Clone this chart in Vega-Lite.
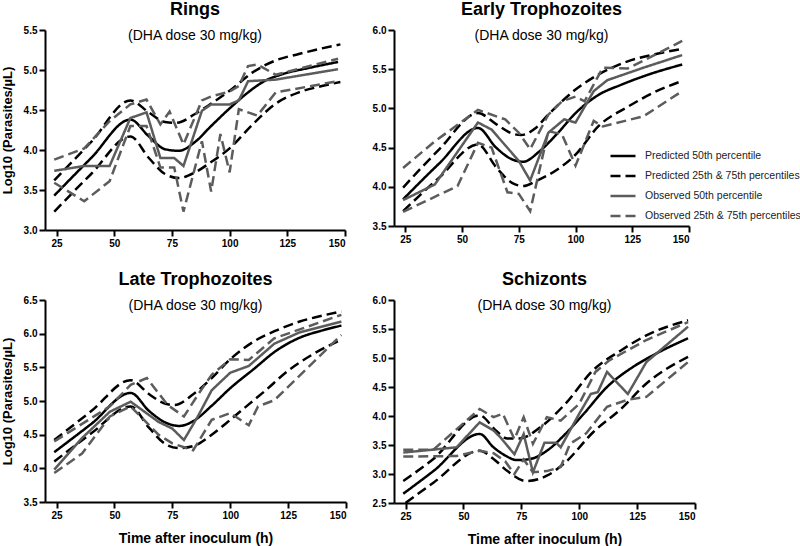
{
  "$schema": "https://vega.github.io/schema/vega-lite/v6.json",
  "padding": {"left": 1, "top": 1, "right": 0, "bottom": 0},
  "background": "white",
  "data": {"values": [
    {"p":"R","s":"P50","l":"p50","t":24,"v":3.43},{"p":"R","s":"P50","l":"p50","t":40,"v":3.90},{"p":"R","s":"P50","l":"p50","t":57,"v":4.38},{"p":"R","s":"P50","l":"p50","t":65,"v":4.17},{"p":"R","s":"P50","l":"p50","t":72,"v":4.01},{"p":"R","s":"P50","l":"p50","t":78,"v":3.99},{"p":"R","s":"P50","l":"p50","t":85,"v":4.10},{"p":"R","s":"P50","l":"p50","t":92,"v":4.30},{"p":"R","s":"P50","l":"p50","t":100,"v":4.52},{"p":"R","s":"P50","l":"p50","t":108,"v":4.72},{"p":"R","s":"P50","l":"p50","t":115,"v":4.86},{"p":"R","s":"P50","l":"p50","t":122,"v":4.94},{"p":"R","s":"P50","l":"p50","t":135,"v":5.03},{"p":"R","s":"P50","l":"p50","t":147,"v":5.10},
    {"p":"R","s":"P2575","l":"p75","t":24,"v":3.62},{"p":"R","s":"P2575","l":"p75","t":40,"v":4.10},{"p":"R","s":"P2575","l":"p75","t":57,"v":4.62},{"p":"R","s":"P2575","l":"p75","t":65,"v":4.47},{"p":"R","s":"P2575","l":"p75","t":72,"v":4.35},{"p":"R","s":"P2575","l":"p75","t":77,"v":4.34},{"p":"R","s":"P2575","l":"p75","t":85,"v":4.45},{"p":"R","s":"P2575","l":"p75","t":92,"v":4.58},{"p":"R","s":"P2575","l":"p75","t":100,"v":4.74},{"p":"R","s":"P2575","l":"p75","t":110,"v":4.97},{"p":"R","s":"P2575","l":"p75","t":120,"v":5.12},{"p":"R","s":"P2575","l":"p75","t":130,"v":5.20},{"p":"R","s":"P2575","l":"p75","t":140,"v":5.27},{"p":"R","s":"P2575","l":"p75","t":148,"v":5.32},
    {"p":"R","s":"P2575","l":"p25","t":24,"v":3.23},{"p":"R","s":"P2575","l":"p25","t":40,"v":3.70},{"p":"R","s":"P2575","l":"p25","t":57,"v":4.17},{"p":"R","s":"P2575","l":"p25","t":65,"v":3.90},{"p":"R","s":"P2575","l":"p25","t":72,"v":3.70},{"p":"R","s":"P2575","l":"p25","t":78,"v":3.65},{"p":"R","s":"P2575","l":"p25","t":85,"v":3.72},{"p":"R","s":"P2575","l":"p25","t":92,"v":3.85},{"p":"R","s":"P2575","l":"p25","t":100,"v":4.02},{"p":"R","s":"P2575","l":"p25","t":110,"v":4.32},{"p":"R","s":"P2575","l":"p25","t":120,"v":4.58},{"p":"R","s":"P2575","l":"p25","t":130,"v":4.72},{"p":"R","s":"P2575","l":"p25","t":140,"v":4.80},{"p":"R","s":"P2575","l":"p25","t":148,"v":4.85},
    {"p":"R","s":"O50","l":"o50","t":24,"v":3.74},{"p":"R","s":"O50","l":"o50","t":37,"v":3.80},{"p":"R","s":"O50","l":"o50","t":48,"v":3.80},{"p":"R","s":"O50","l":"o50","t":57,"v":4.40},{"p":"R","s":"O50","l":"o50","t":64,"v":4.47},{"p":"R","s":"O50","l":"o50","t":70,"v":3.90},{"p":"R","s":"O50","l":"o50","t":76,"v":3.90},{"p":"R","s":"O50","l":"o50","t":80,"v":3.80},{"p":"R","s":"O50","l":"o50","t":88,"v":4.49},{"p":"R","s":"O50","l":"o50","t":92,"v":4.57},{"p":"R","s":"O50","l":"o50","t":100,"v":4.57},{"p":"R","s":"O50","l":"o50","t":104,"v":4.62},{"p":"R","s":"O50","l":"o50","t":108,"v":4.86},{"p":"R","s":"O50","l":"o50","t":120,"v":4.88},{"p":"R","s":"O50","l":"o50","t":147,"v":5.01},
    {"p":"R","s":"O2575","l":"o75","t":24,"v":3.88},{"p":"R","s":"O2575","l":"o75","t":37,"v":4.02},{"p":"R","s":"O2575","l":"o75","t":48,"v":4.36},{"p":"R","s":"O2575","l":"o75","t":57,"v":4.57},{"p":"R","s":"O2575","l":"o75","t":64,"v":4.63},{"p":"R","s":"O2575","l":"o75","t":70,"v":4.32},{"p":"R","s":"O2575","l":"o75","t":74,"v":4.48},{"p":"R","s":"O2575","l":"o75","t":80,"v":4.07},{"p":"R","s":"O2575","l":"o75","t":88,"v":4.62},{"p":"R","s":"O2575","l":"o75","t":92,"v":4.67},{"p":"R","s":"O2575","l":"o75","t":100,"v":4.73},{"p":"R","s":"O2575","l":"o75","t":104,"v":4.80},{"p":"R","s":"O2575","l":"o75","t":108,"v":5.05},{"p":"R","s":"O2575","l":"o75","t":112,"v":5.07},{"p":"R","s":"O2575","l":"o75","t":120,"v":4.94},{"p":"R","s":"O2575","l":"o75","t":147,"v":5.14},
    {"p":"R","s":"O2575","l":"o25","t":24,"v":3.59},{"p":"R","s":"O2575","l":"o25","t":37,"v":3.36},{"p":"R","s":"O2575","l":"o25","t":48,"v":3.61},{"p":"R","s":"O2575","l":"o25","t":57,"v":4.30},{"p":"R","s":"O2575","l":"o25","t":64,"v":4.30},{"p":"R","s":"O2575","l":"o25","t":70,"v":3.78},{"p":"R","s":"O2575","l":"o25","t":76,"v":3.78},{"p":"R","s":"O2575","l":"o25","t":80,"v":3.23},{"p":"R","s":"O2575","l":"o25","t":88,"v":4.11},{"p":"R","s":"O2575","l":"o25","t":92,"v":3.48},{"p":"R","s":"O2575","l":"o25","t":96,"v":4.20},{"p":"R","s":"O2575","l":"o25","t":100,"v":3.72},{"p":"R","s":"O2575","l":"o25","t":104,"v":4.51},{"p":"R","s":"O2575","l":"o25","t":112,"v":4.43},{"p":"R","s":"O2575","l":"o25","t":120,"v":4.72},{"p":"R","s":"O2575","l":"o25","t":147,"v":4.86},

    {"p":"E","s":"P50","l":"p50","t":24,"v":3.84},{"p":"E","s":"P50","l":"p50","t":40,"v":4.30},{"p":"E","s":"P50","l":"p50","t":57,"v":4.75},{"p":"E","s":"P50","l":"p50","t":65,"v":4.50},{"p":"E","s":"P50","l":"p50","t":72,"v":4.35},{"p":"E","s":"P50","l":"p50","t":77,"v":4.32},{"p":"E","s":"P50","l":"p50","t":84,"v":4.45},{"p":"E","s":"P50","l":"p50","t":92,"v":4.68},{"p":"E","s":"P50","l":"p50","t":100,"v":4.94},{"p":"E","s":"P50","l":"p50","t":110,"v":5.17},{"p":"E","s":"P50","l":"p50","t":120,"v":5.30},{"p":"E","s":"P50","l":"p50","t":132,"v":5.43},{"p":"E","s":"P50","l":"p50","t":147,"v":5.56},
    {"p":"E","s":"P2575","l":"p75","t":24,"v":3.99},{"p":"E","s":"P2575","l":"p75","t":40,"v":4.48},{"p":"E","s":"P2575","l":"p75","t":57,"v":4.94},{"p":"E","s":"P2575","l":"p75","t":65,"v":4.80},{"p":"E","s":"P2575","l":"p75","t":72,"v":4.68},{"p":"E","s":"P2575","l":"p75","t":76,"v":4.66},{"p":"E","s":"P2575","l":"p75","t":82,"v":4.74},{"p":"E","s":"P2575","l":"p75","t":88,"v":4.92},{"p":"E","s":"P2575","l":"p75","t":100,"v":5.24},{"p":"E","s":"P2575","l":"p75","t":110,"v":5.43},{"p":"E","s":"P2575","l":"p75","t":123,"v":5.60},{"p":"E","s":"P2575","l":"p75","t":135,"v":5.69},{"p":"E","s":"P2575","l":"p75","t":147,"v":5.76},
    {"p":"E","s":"P2575","l":"p25","t":24,"v":3.69},{"p":"E","s":"P2575","l":"p25","t":40,"v":4.12},{"p":"E","s":"P2575","l":"p25","t":57,"v":4.54},{"p":"E","s":"P2575","l":"p25","t":65,"v":4.25},{"p":"E","s":"P2575","l":"p25","t":72,"v":4.05},{"p":"E","s":"P2575","l":"p25","t":77,"v":4.01},{"p":"E","s":"P2575","l":"p25","t":83,"v":4.08},{"p":"E","s":"P2575","l":"p25","t":92,"v":4.22},{"p":"E","s":"P2575","l":"p25","t":100,"v":4.41},{"p":"E","s":"P2575","l":"p25","t":110,"v":4.77},{"p":"E","s":"P2575","l":"p25","t":123,"v":5.02},{"p":"E","s":"P2575","l":"p25","t":135,"v":5.21},{"p":"E","s":"P2575","l":"p25","t":147,"v":5.35},
    {"p":"E","s":"O50","l":"o50","t":24,"v":3.83},{"p":"E","s":"O50","l":"o50","t":38,"v":4.03},{"p":"E","s":"O50","l":"o50","t":57,"v":4.82},{"p":"E","s":"O50","l":"o50","t":63,"v":4.73},{"p":"E","s":"O50","l":"o50","t":75,"v":4.33},{"p":"E","s":"O50","l":"o50","t":80,"v":4.08},{"p":"E","s":"O50","l":"o50","t":88,"v":4.69},{"p":"E","s":"O50","l":"o50","t":95,"v":4.86},{"p":"E","s":"O50","l":"o50","t":100,"v":4.82},{"p":"E","s":"O50","l":"o50","t":108,"v":5.22},{"p":"E","s":"O50","l":"o50","t":114,"v":5.36},{"p":"E","s":"O50","l":"o50","t":130,"v":5.52},{"p":"E","s":"O50","l":"o50","t":147,"v":5.68},
    {"p":"E","s":"O2575","l":"o75","t":24,"v":4.24},{"p":"E","s":"O2575","l":"o75","t":38,"v":4.58},{"p":"E","s":"O2575","l":"o75","t":57,"v":4.98},{"p":"E","s":"O2575","l":"o75","t":69,"v":4.86},{"p":"E","s":"O2575","l":"o75","t":75,"v":4.69},{"p":"E","s":"O2575","l":"o75","t":80,"v":4.48},{"p":"E","s":"O2575","l":"o75","t":88,"v":4.92},{"p":"E","s":"O2575","l":"o75","t":94,"v":5.09},{"p":"E","s":"O2575","l":"o75","t":100,"v":5.15},{"p":"E","s":"O2575","l":"o75","t":104,"v":5.09},{"p":"E","s":"O2575","l":"o75","t":112,"v":5.52},{"p":"E","s":"O2575","l":"o75","t":123,"v":5.51},{"p":"E","s":"O2575","l":"o75","t":147,"v":5.86},
    {"p":"E","s":"O2575","l":"o25","t":24,"v":3.68},{"p":"E","s":"O2575","l":"o25","t":48,"v":4.01},{"p":"E","s":"O2575","l":"o25","t":57,"v":4.56},{"p":"E","s":"O2575","l":"o25","t":63,"v":4.50},{"p":"E","s":"O2575","l":"o25","t":70,"v":3.93},{"p":"E","s":"O2575","l":"o25","t":75,"v":3.91},{"p":"E","s":"O2575","l":"o25","t":80,"v":3.69},{"p":"E","s":"O2575","l":"o25","t":88,"v":4.71},{"p":"E","s":"O2575","l":"o25","t":94,"v":4.67},{"p":"E","s":"O2575","l":"o25","t":100,"v":4.27},{"p":"E","s":"O2575","l":"o25","t":108,"v":4.84},{"p":"E","s":"O2575","l":"o25","t":112,"v":4.77},{"p":"E","s":"O2575","l":"o25","t":130,"v":4.90},{"p":"E","s":"O2575","l":"o25","t":147,"v":5.22},

    {"p":"L","s":"P50","l":"p50","t":24,"v":4.24},{"p":"L","s":"P50","l":"p50","t":40,"v":4.66},{"p":"L","s":"P50","l":"p50","t":57,"v":5.12},{"p":"L","s":"P50","l":"p50","t":65,"v":4.85},{"p":"L","s":"P50","l":"p50","t":72,"v":4.68},{"p":"L","s":"P50","l":"p50","t":78,"v":4.63},{"p":"L","s":"P50","l":"p50","t":84,"v":4.70},{"p":"L","s":"P50","l":"p50","t":92,"v":4.93},{"p":"L","s":"P50","l":"p50","t":100,"v":5.19},{"p":"L","s":"P50","l":"p50","t":110,"v":5.47},{"p":"L","s":"P50","l":"p50","t":120,"v":5.75},{"p":"L","s":"P50","l":"p50","t":130,"v":5.94},{"p":"L","s":"P50","l":"p50","t":140,"v":6.05},{"p":"L","s":"P50","l":"p50","t":148,"v":6.12},
    {"p":"L","s":"P2575","l":"p75","t":24,"v":4.42},{"p":"L","s":"P2575","l":"p75","t":40,"v":4.85},{"p":"L","s":"P2575","l":"p75","t":57,"v":5.31},{"p":"L","s":"P2575","l":"p75","t":65,"v":5.10},{"p":"L","s":"P2575","l":"p75","t":72,"v":4.96},{"p":"L","s":"P2575","l":"p75","t":76,"v":4.94},{"p":"L","s":"P2575","l":"p75","t":84,"v":5.10},{"p":"L","s":"P2575","l":"p75","t":92,"v":5.34},{"p":"L","s":"P2575","l":"p75","t":100,"v":5.62},{"p":"L","s":"P2575","l":"p75","t":110,"v":5.88},{"p":"L","s":"P2575","l":"p75","t":120,"v":6.05},{"p":"L","s":"P2575","l":"p75","t":130,"v":6.18},{"p":"L","s":"P2575","l":"p75","t":140,"v":6.27},{"p":"L","s":"P2575","l":"p75","t":148,"v":6.33},
    {"p":"L","s":"P2575","l":"p25","t":24,"v":4.10},{"p":"L","s":"P2575","l":"p25","t":40,"v":4.52},{"p":"L","s":"P2575","l":"p25","t":57,"v":4.92},{"p":"L","s":"P2575","l":"p25","t":65,"v":4.60},{"p":"L","s":"P2575","l":"p25","t":72,"v":4.36},{"p":"L","s":"P2575","l":"p25","t":78,"v":4.30},{"p":"L","s":"P2575","l":"p25","t":84,"v":4.33},{"p":"L","s":"P2575","l":"p25","t":92,"v":4.50},{"p":"L","s":"P2575","l":"p25","t":100,"v":4.72},{"p":"L","s":"P2575","l":"p25","t":108,"v":4.95},{"p":"L","s":"P2575","l":"p25","t":115,"v":5.15},{"p":"L","s":"P2575","l":"p25","t":125,"v":5.45},{"p":"L","s":"P2575","l":"p25","t":135,"v":5.68},{"p":"L","s":"P2575","l":"p25","t":148,"v":5.91},
    {"p":"L","s":"O50","l":"o50","t":24,"v":3.98},{"p":"L","s":"O50","l":"o50","t":36,"v":4.45},{"p":"L","s":"O50","l":"o50","t":48,"v":4.84},{"p":"L","s":"O50","l":"o50","t":57,"v":4.99},{"p":"L","s":"O50","l":"o50","t":69,"v":4.69},{"p":"L","s":"O50","l":"o50","t":75,"v":4.59},{"p":"L","s":"O50","l":"o50","t":80,"v":4.42},{"p":"L","s":"O50","l":"o50","t":86,"v":4.77},{"p":"L","s":"O50","l":"o50","t":92,"v":5.16},{"p":"L","s":"O50","l":"o50","t":100,"v":5.42},{"p":"L","s":"O50","l":"o50","t":108,"v":5.52},{"p":"L","s":"O50","l":"o50","t":119,"v":5.85},{"p":"L","s":"O50","l":"o50","t":130,"v":6.02},{"p":"L","s":"O50","l":"o50","t":148,"v":6.18},
    {"p":"L","s":"O2575","l":"o75","t":24,"v":4.40},{"p":"L","s":"O2575","l":"o75","t":48,"v":4.92},{"p":"L","s":"O2575","l":"o75","t":57,"v":5.24},{"p":"L","s":"O2575","l":"o75","t":64,"v":5.34},{"p":"L","s":"O2575","l":"o75","t":73,"v":4.94},{"p":"L","s":"O2575","l":"o75","t":80,"v":4.77},{"p":"L","s":"O2575","l":"o75","t":86,"v":5.09},{"p":"L","s":"O2575","l":"o75","t":92,"v":5.39},{"p":"L","s":"O2575","l":"o75","t":100,"v":5.62},{"p":"L","s":"O2575","l":"o75","t":108,"v":5.61},{"p":"L","s":"O2575","l":"o75","t":119,"v":5.93},{"p":"L","s":"O2575","l":"o75","t":148,"v":6.28},
    {"p":"L","s":"O2575","l":"o25","t":24,"v":3.93},{"p":"L","s":"O2575","l":"o25","t":36,"v":4.22},{"p":"L","s":"O2575","l":"o25","t":48,"v":4.77},{"p":"L","s":"O2575","l":"o25","t":57,"v":4.92},{"p":"L","s":"O2575","l":"o25","t":69,"v":4.50},{"p":"L","s":"O2575","l":"o25","t":75,"v":4.37},{"p":"L","s":"O2575","l":"o25","t":84,"v":4.27},{"p":"L","s":"O2575","l":"o25","t":92,"v":4.72},{"p":"L","s":"O2575","l":"o25","t":100,"v":4.82},{"p":"L","s":"O2575","l":"o25","t":108,"v":4.64},{"p":"L","s":"O2575","l":"o25","t":112,"v":4.92},{"p":"L","s":"O2575","l":"o25","t":119,"v":5.01},{"p":"L","s":"O2575","l":"o25","t":148,"v":5.98},

    {"p":"S","s":"P50","l":"p50","t":24,"v":2.66},{"p":"S","s":"P50","l":"p50","t":37,"v":3.05},{"p":"S","s":"P50","l":"p50","t":57,"v":3.69},{"p":"S","s":"P50","l":"p50","t":63,"v":3.46},{"p":"S","s":"P50","l":"p50","t":68,"v":3.32},{"p":"S","s":"P50","l":"p50","t":73,"v":3.24},{"p":"S","s":"P50","l":"p50","t":79,"v":3.26},{"p":"S","s":"P50","l":"p50","t":86,"v":3.40},{"p":"S","s":"P50","l":"p50","t":94,"v":3.69},{"p":"S","s":"P50","l":"p50","t":102,"v":4.04},{"p":"S","s":"P50","l":"p50","t":112,"v":4.50},{"p":"S","s":"P50","l":"p50","t":123,"v":4.84},{"p":"S","s":"P50","l":"p50","t":132,"v":5.05},{"p":"S","s":"P50","l":"p50","t":147,"v":5.34},
    {"p":"S","s":"P2575","l":"p75","t":24,"v":2.88},{"p":"S","s":"P2575","l":"p75","t":37,"v":3.26},{"p":"S","s":"P2575","l":"p75","t":57,"v":4.01},{"p":"S","s":"P2575","l":"p75","t":64,"v":3.75},{"p":"S","s":"P2575","l":"p75","t":69,"v":3.61},{"p":"S","s":"P2575","l":"p75","t":74,"v":3.61},{"p":"S","s":"P2575","l":"p75","t":83,"v":3.80},{"p":"S","s":"P2575","l":"p75","t":94,"v":4.21},{"p":"S","s":"P2575","l":"p75","t":106,"v":4.79},{"p":"S","s":"P2575","l":"p75","t":118,"v":5.13},{"p":"S","s":"P2575","l":"p75","t":129,"v":5.39},{"p":"S","s":"P2575","l":"p75","t":147,"v":5.65},
    {"p":"S","s":"P2575","l":"p25","t":25,"v":2.50},{"p":"S","s":"P2575","l":"p25","t":37,"v":2.85},{"p":"S","s":"P2575","l":"p25","t":57,"v":3.40},{"p":"S","s":"P2575","l":"p25","t":63,"v":3.26},{"p":"S","s":"P2575","l":"p25","t":69,"v":3.05},{"p":"S","s":"P2575","l":"p25","t":77,"v":2.88},{"p":"S","s":"P2575","l":"p25","t":86,"v":2.97},{"p":"S","s":"P2575","l":"p25","t":94,"v":3.20},{"p":"S","s":"P2575","l":"p25","t":106,"v":3.72},{"p":"S","s":"P2575","l":"p25","t":118,"v":4.12},{"p":"S","s":"P2575","l":"p25","t":129,"v":4.56},{"p":"S","s":"P2575","l":"p25","t":147,"v":5.02},
    {"p":"S","s":"O50","l":"o50","t":24,"v":3.37},{"p":"S","s":"O50","l":"o50","t":47,"v":3.46},{"p":"S","s":"O50","l":"o50","t":57,"v":3.89},{"p":"S","s":"O50","l":"o50","t":63,"v":3.75},{"p":"S","s":"O50","l":"o50","t":66,"v":3.63},{"p":"S","s":"O50","l":"o50","t":72,"v":3.34},{"p":"S","s":"O50","l":"o50","t":76,"v":3.69},{"p":"S","s":"O50","l":"o50","t":80,"v":3.03},{"p":"S","s":"O50","l":"o50","t":85,"v":3.54},{"p":"S","s":"O50","l":"o50","t":90,"v":3.54},{"p":"S","s":"O50","l":"o50","t":92,"v":3.46},{"p":"S","s":"O50","l":"o50","t":100,"v":4.04},{"p":"S","s":"O50","l":"o50","t":105,"v":4.38},{"p":"S","s":"O50","l":"o50","t":108,"v":4.41},{"p":"S","s":"O50","l":"o50","t":112,"v":4.76},{"p":"S","s":"O50","l":"o50","t":121,"v":4.38},{"p":"S","s":"O50","l":"o50","t":129,"v":4.93},{"p":"S","s":"O50","l":"o50","t":147,"v":5.54},
    {"p":"S","s":"O2575","l":"o75","t":24,"v":3.42},{"p":"S","s":"O2575","l":"o75","t":37,"v":3.42},{"p":"S","s":"O2575","l":"o75","t":57,"v":4.12},{"p":"S","s":"O2575","l":"o75","t":63,"v":3.98},{"p":"S","s":"O2575","l":"o75","t":67,"v":4.04},{"p":"S","s":"O2575","l":"o75","t":72,"v":3.60},{"p":"S","s":"O2575","l":"o75","t":76,"v":3.98},{"p":"S","s":"O2575","l":"o75","t":80,"v":3.52},{"p":"S","s":"O2575","l":"o75","t":86,"v":3.98},{"p":"S","s":"O2575","l":"o75","t":92,"v":3.92},{"p":"S","s":"O2575","l":"o75","t":100,"v":4.21},{"p":"S","s":"O2575","l":"o75","t":107,"v":4.76},{"p":"S","s":"O2575","l":"o75","t":113,"v":4.96},{"p":"S","s":"O2575","l":"o75","t":129,"v":5.31},{"p":"S","s":"O2575","l":"o75","t":147,"v":5.62},
    {"p":"S","s":"O2575","l":"o25","t":24,"v":3.30},{"p":"S","s":"O2575","l":"o25","t":47,"v":3.31},{"p":"S","s":"O2575","l":"o25","t":57,"v":3.40},{"p":"S","s":"O2575","l":"o25","t":63,"v":3.36},{"p":"S","s":"O2575","l":"o25","t":68,"v":3.22},{"p":"S","s":"O2575","l":"o25","t":72,"v":3.00},{"p":"S","s":"O2575","l":"o25","t":76,"v":3.25},{"p":"S","s":"O2575","l":"o25","t":80,"v":3.03},{"p":"S","s":"O2575","l":"o25","t":86,"v":3.05},{"p":"S","s":"O2575","l":"o25","t":92,"v":3.12},{"p":"S","s":"O2575","l":"o25","t":96,"v":3.52},{"p":"S","s":"O2575","l":"o25","t":103,"v":3.70},{"p":"S","s":"O2575","l":"o25","t":112,"v":4.16},{"p":"S","s":"O2575","l":"o25","t":121,"v":4.28},{"p":"S","s":"O2575","l":"o25","t":129,"v":4.33},{"p":"S","s":"O2575","l":"o25","t":147,"v":4.93}
  ]},
  "columns": 2,
  "spacing": {"row": 23, "column": 25},
  "resolve": {"legend": {"color": "independent", "strokeDash": "independent"}},
  "concat": [
    {
      "title": {"text": "Rings", "subtitle": "(DHA dose 30 mg/kg)"},
      "width": 300, "height": 200,
      "transform": [{"filter": {"field": "p", "equal": "R"}}],
      "encoding": {
        "x": {"field": "t", "type": "quantitative", "scale": {"domain": [20, 150]}, "axis": {"values": [25, 50, 75, 100, 125, 150], "title": null}},
        "y": {"field": "v", "type": "quantitative", "scale": {"domain": [3, 5.5]}, "axis": {"values": [3, 3.5, 4, 4.5, 5, 5.5], "format": ".1f", "title": "Log10 (Parasites/µL)"}},
        "color": {"field": "s", "type": "nominal", "scale": {"domain": ["P50", "P2575", "O50", "O2575"], "range": ["#000000", "#000000", "#5c5c5c", "#5c5c5c"]}, "legend": null},
        "strokeDash": {"field": "s", "type": "nominal", "scale": {"domain": ["P50", "P2575", "O50", "O2575"], "range": [[1, 0], [10, 5], [1, 0], [10, 5]]}, "legend": null},
        "detail": {"field": "l"}
      },
      "layer": [
        {"transform": [{"filter": {"field": "s", "oneOf": ["P50", "P2575"]}}], "mark": {"type": "line", "interpolate": "monotone", "strokeWidth": 2.5}},
        {"transform": [{"filter": {"field": "s", "oneOf": ["O50", "O2575"]}}], "mark": {"type": "line", "strokeWidth": 2.5}}
      ]
    },
    {
      "title": {"text": "Early Trophozoites", "subtitle": "(DHA dose 30 mg/kg)"},
      "width": 295, "height": 196,
      "transform": [{"filter": {"field": "p", "equal": "E"}}],
      "encoding": {
        "x": {"field": "t", "type": "quantitative", "scale": {"domain": [20, 150]}, "axis": {"values": [25, 50, 75, 100, 125, 150], "title": null}},
        "y": {"field": "v", "type": "quantitative", "scale": {"domain": [3.5, 6]}, "axis": {"values": [3.5, 4, 4.5, 5, 5.5, 6], "format": ".1f", "title": null}},
        "color": {"field": "s", "type": "nominal", "scale": {"domain": ["P50", "P2575", "O50", "O2575"], "range": ["#000000", "#000000", "#5c5c5c", "#5c5c5c"]},
          "legend": {"orient": "none", "legendX": 215, "legendY": 112, "labelExpr": "datum.value == 'P50' ? 'Predicted 50th percentile' : datum.value == 'P2575' ? 'Predicted 25th & 75th percentiles' : datum.value == 'O50' ? 'Observed 50th percentile' : 'Observed 25th & 75th percentiles'"}},
        "strokeDash": {"field": "s", "type": "nominal", "scale": {"domain": ["P50", "P2575", "O50", "O2575"], "range": [[1, 0], [10, 5], [1, 0], [10, 5]]},
          "legend": {"orient": "none", "legendX": 215, "legendY": 112, "labelExpr": "datum.value == 'P50' ? 'Predicted 50th percentile' : datum.value == 'P2575' ? 'Predicted 25th & 75th percentiles' : datum.value == 'O50' ? 'Observed 50th percentile' : 'Observed 25th & 75th percentiles'"}},
        "detail": {"field": "l"}
      },
      "layer": [
        {"transform": [{"filter": {"field": "s", "oneOf": ["P50", "P2575"]}}], "mark": {"type": "line", "interpolate": "monotone", "strokeWidth": 2.5}},
        {"transform": [{"filter": {"field": "s", "oneOf": ["O50", "O2575"]}}], "mark": {"type": "line", "strokeWidth": 2.5}}
      ]
    },
    {
      "title": {"text": "Late Trophozoites", "subtitle": "(DHA dose 30 mg/kg)"},
      "width": 301, "height": 202,
      "transform": [{"filter": {"field": "p", "equal": "L"}}],
      "encoding": {
        "x": {"field": "t", "type": "quantitative", "scale": {"domain": [20, 150]}, "axis": {"values": [25, 50, 75, 100, 125, 150], "title": "Time after inoculum (h)"}},
        "y": {"field": "v", "type": "quantitative", "scale": {"domain": [3.5, 6.5]}, "axis": {"values": [3.5, 4, 4.5, 5, 5.5, 6, 6.5], "format": ".1f", "title": "Log10 (Parasites/µL)"}},
        "color": {"field": "s", "type": "nominal", "scale": {"domain": ["P50", "P2575", "O50", "O2575"], "range": ["#000000", "#000000", "#5c5c5c", "#5c5c5c"]}, "legend": null},
        "strokeDash": {"field": "s", "type": "nominal", "scale": {"domain": ["P50", "P2575", "O50", "O2575"], "range": [[1, 0], [10, 5], [1, 0], [10, 5]]}, "legend": null},
        "detail": {"field": "l"}
      },
      "layer": [
        {"transform": [{"filter": {"field": "s", "oneOf": ["P50", "P2575"]}}], "mark": {"type": "line", "interpolate": "monotone", "strokeWidth": 2.5}},
        {"transform": [{"filter": {"field": "s", "oneOf": ["O50", "O2575"]}}], "mark": {"type": "line", "strokeWidth": 2.5}}
      ]
    },
    {
      "title": {"text": "Schizonts", "subtitle": "(DHA dose 30 mg/kg)"},
      "width": 301, "height": 203,
      "transform": [{"filter": {"field": "p", "equal": "S"}}],
      "encoding": {
        "x": {"field": "t", "type": "quantitative", "scale": {"domain": [20, 150]}, "axis": {"values": [25, 50, 75, 100, 125, 150], "title": "Time after inoculum (h)"}},
        "y": {"field": "v", "type": "quantitative", "scale": {"domain": [2.5, 6]}, "axis": {"values": [2.5, 3, 3.5, 4, 4.5, 5, 5.5, 6], "format": ".1f", "title": null}},
        "color": {"field": "s", "type": "nominal", "scale": {"domain": ["P50", "P2575", "O50", "O2575"], "range": ["#000000", "#000000", "#5c5c5c", "#5c5c5c"]}, "legend": null},
        "strokeDash": {"field": "s", "type": "nominal", "scale": {"domain": ["P50", "P2575", "O50", "O2575"], "range": [[1, 0], [10, 5], [1, 0], [10, 5]]}, "legend": null},
        "detail": {"field": "l"}
      },
      "layer": [
        {"transform": [{"filter": {"field": "s", "oneOf": ["P50", "P2575"]}}], "mark": {"type": "line", "interpolate": "monotone", "strokeWidth": 2.5, "clip": true}},
        {"transform": [{"filter": {"field": "s", "oneOf": ["O50", "O2575"]}}], "mark": {"type": "line", "strokeWidth": 2.5}}
      ]
    }
  ],
  "config": {
    "font": "Liberation Sans",
    "view": {"stroke": null},
    "title": {"font": "Liberation Sans", "fontSize": 18, "fontWeight": "bold", "color": "#000", "subtitleFont": "Liberation Sans", "subtitleFontSize": 14, "subtitleColor": "#000", "subtitlePadding": 10, "offset": -18, "anchor": "middle", "frame": "group"},
    "axis": {"grid": false, "domainColor": "#000", "domainWidth": 2, "tickColor": "#000", "tickWidth": 2, "tickSize": 6, "labelFont": "Liberation Sans", "labelFontWeight": "bold", "labelFontSize": 10, "labelColor": "#000", "labelPadding": 2, "titleFont": "Liberation Sans", "titleFontSize": 13, "titleFontWeight": "bold", "titleColor": "#000"},
    "axisY": {"titlePadding": 9},
    "axisX": {"titlePadding": 11, "titleFontSize": 14},
    "legend": {"title": null, "symbolType": "stroke", "symbolSize": 625, "symbolStrokeWidth": 2.5, "labelFont": "Liberation Sans", "labelFontSize": 10.5, "labelColor": "#222", "labelOffset": 8, "rowPadding": -6, "padding": 0, "labelLimit": 0}
  }
}
